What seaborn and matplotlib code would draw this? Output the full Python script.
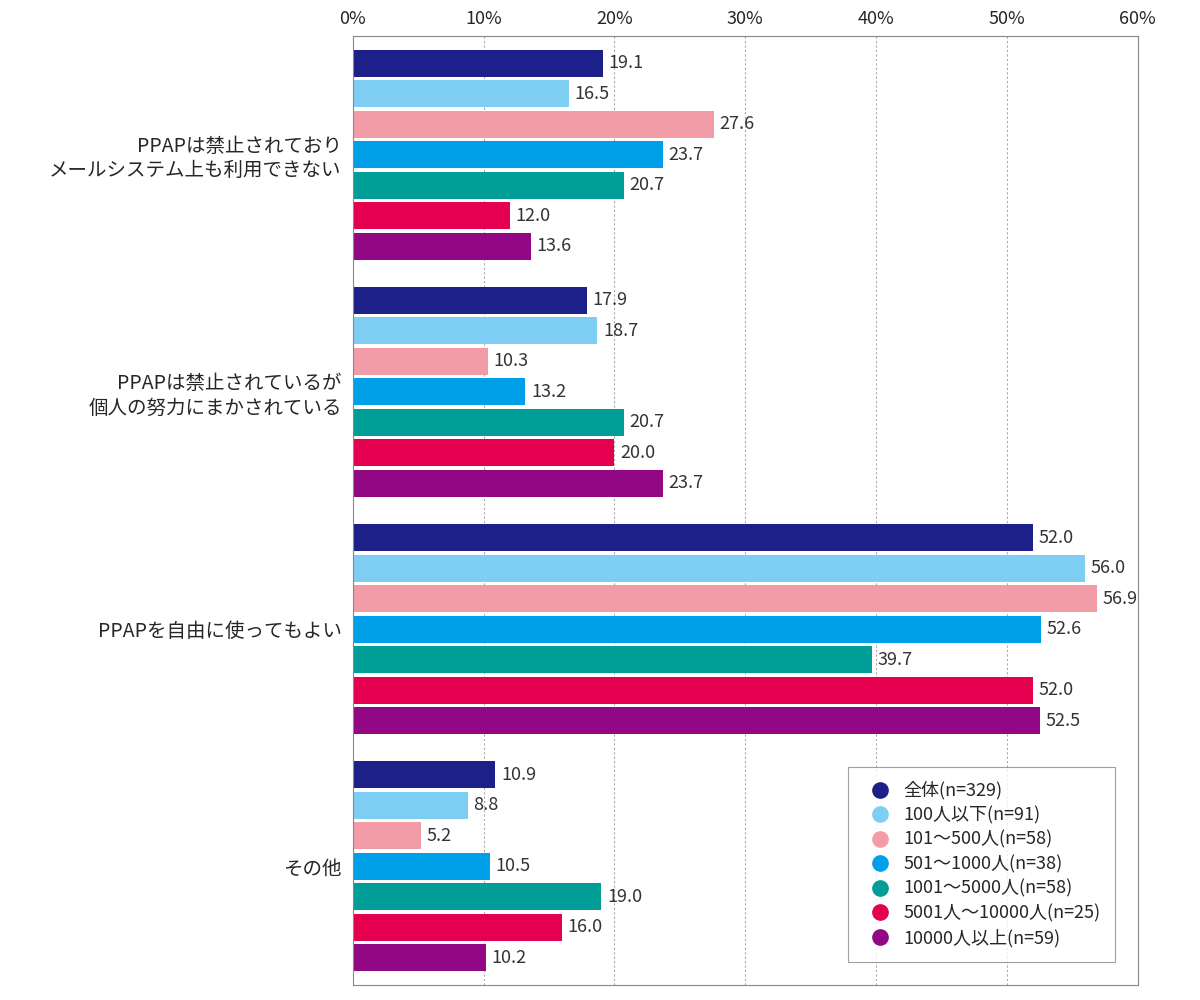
import matplotlib
matplotlib.use("Agg")
import matplotlib.pyplot as plt
from matplotlib.lines import Line2D
from matplotlib.ticker import PercentFormatter
import seaborn as sns
import pandas as pd

categories = ["PPAPは禁止されており\nメールシステム上も利用できない",
              "PPAPは禁止されているが\n個人の努力にまかされている",
              "PPAPを自由に使ってもよい",
              "その他"]
groups = ["全体(n=329)", "100人以下(n=91)", "101〜500人(n=58)", "501〜1000人(n=38)",
          "1001〜5000人(n=58)", "5001人〜10000人(n=25)", "10000人以上(n=59)"]
values = [
    [19.1, 16.5, 27.6, 23.7, 20.7, 12.0, 13.6],
    [17.9, 18.7, 10.3, 13.2, 20.7, 20.0, 23.7],
    [52.0, 56.0, 56.9, 52.6, 39.7, 52.0, 52.5],
    [10.9, 8.8, 5.2, 10.5, 19.0, 16.0, 10.2],
]
colors = ["#1d2088", "#7ecef4", "#f29ca7", "#00a0e9", "#009e96", "#e5004f", "#920783"]

rows = []
for c, vals in zip(categories, values):
    for g, v in zip(groups, vals):
        rows.append({"cat": c, "group": g, "value": v})
df = pd.DataFrame(rows)

sns.set_style("white")
plt.rcParams['font.family'] = ['Noto Sans CJK JP', 'DejaVu Sans']

fig = plt.figure(figsize=(12, 10), dpi=100)
ax = fig.add_axes([0.294, 0.015, 0.654, 0.949])
sns.barplot(data=df, y="cat", x="value", hue="group", palette=colors, saturation=1,
            orient="h", width=0.9, gap=0.12, ax=ax, legend=False, linewidth=0)

for cont in ax.containers:
    ax.bar_label(cont, fmt="%.1f", padding=4, fontsize=13, color="#333333")

ax.set_xlim(0, 60)
ax.set_xticks(range(0, 61, 10))
ax.xaxis.set_major_formatter(PercentFormatter(decimals=0))
ax.xaxis.tick_top()
ax.tick_params(axis="x", length=0, labelsize=13, pad=6)
ax.tick_params(axis="y", length=0, labelsize=14, pad=8)
ax.set_xlabel("")
ax.set_ylabel("")
ax.set_ylim(3.5, -0.5)
ax.xaxis.grid(True, linestyle=(0, (2, 2)), color="#aaaaaa", linewidth=0.8)
ax.set_axisbelow(True)
for s in ax.spines.values():
    s.set_color("#888888")
    s.set_linewidth(0.8)
for lbl in ax.get_yticklabels():
    lbl.set_horizontalalignment("right")
    lbl.set_multialignment("right")

handles = [Line2D([], [], marker="o", linestyle="", markersize=11, color=c) for c in colors]
leg = ax.legend(handles, groups, loc="lower right", bbox_to_anchor=(0.983, 0.015),
                fontsize=13, frameon=True, fancybox=False, edgecolor="#888888",
                handletextpad=0.3, labelspacing=0.35, borderpad=0.8)
leg.get_frame().set_linewidth(0.8)

fig.savefig("out.png", dpi=100)
